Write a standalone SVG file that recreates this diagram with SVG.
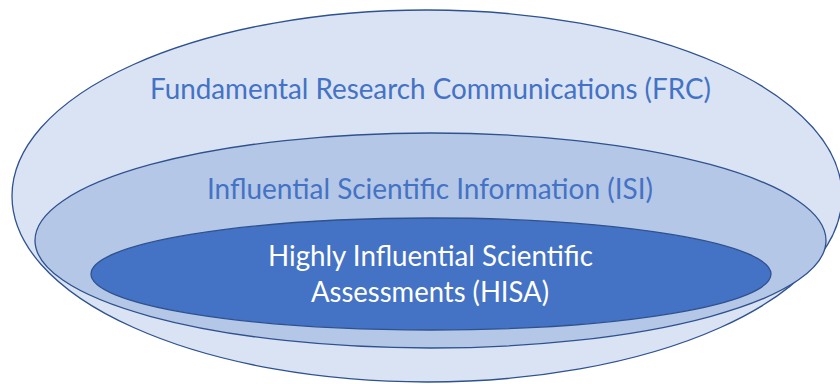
<svg xmlns="http://www.w3.org/2000/svg" width="840" height="384" viewBox="0 0 840 384">
<style>
.ring{stroke:#2F528F;stroke-width:1.3}
.lbl{font-family:Lato,"Liberation Sans",sans-serif;font-size:28px;text-anchor:middle}
.blue{fill:#4472C4}
.white{fill:#FFFFFF}
</style>
<rect width="840" height="384" fill="#FFFFFF"/>
<g id="frc">
<ellipse class="ring" cx="427" cy="196" rx="415" ry="186" fill="#DAE3F3"/>
<text class="lbl blue" x="430.5" y="99" textLength="561" lengthAdjust="spacingAndGlyphs">Fundamental Research Communications (FRC)</text>
</g>
<g id="isi">
<ellipse class="ring" cx="430.5" cy="240.5" rx="395.5" ry="107.5" fill="#B4C7E7"/>
<text class="lbl blue" x="430" y="199" textLength="446" lengthAdjust="spacingAndGlyphs">Influential Scientific Information (ISI)</text>
</g>
<g id="hisa">
<ellipse class="ring" cx="431" cy="274" rx="340" ry="56" fill="#4472C4"/>
<text class="lbl white" x="430.5" y="266" textLength="325" lengthAdjust="spacingAndGlyphs">Highly Influential Scientific</text>
<text class="lbl white" x="430" y="302" textLength="238" lengthAdjust="spacingAndGlyphs">Assessments (HISA)</text>
</g>
<g id="connectors"></g>
</svg>
